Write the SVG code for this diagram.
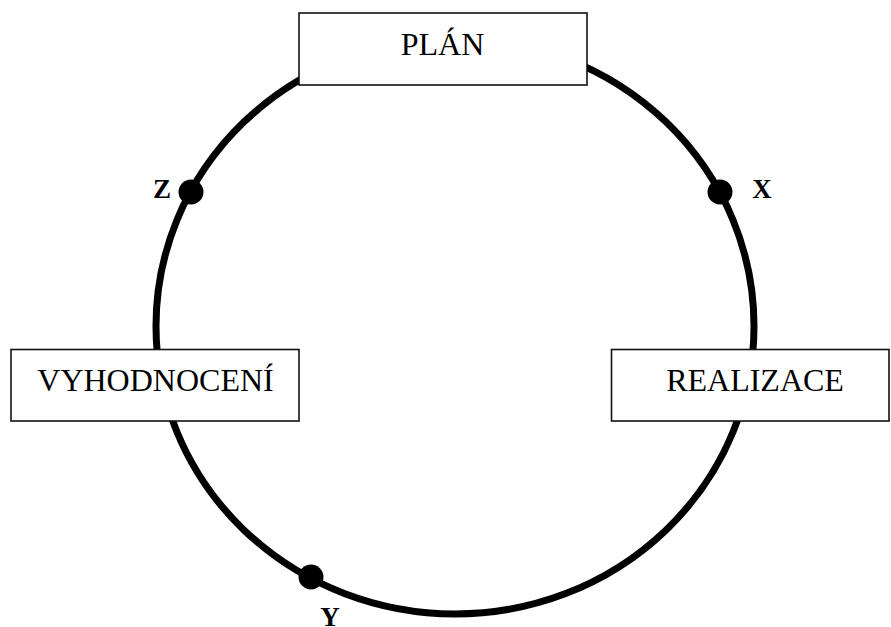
<svg xmlns="http://www.w3.org/2000/svg" width="891" height="627" viewBox="0 0 891 627">
  <style>
    .ring { fill: none; stroke: #000; stroke-width: 7; }
    .box { fill: #fff; stroke: #111; stroke-width: 1.6; }
    .box-label { font-family: "Liberation Serif", "Times New Roman", serif; font-size: 32px; fill: #000; text-anchor: middle; }
    .point { fill: #000; }
    .point-label { font-family: "Liberation Serif", "Times New Roman", serif; font-size: 27px; font-weight: bold; fill: #000; text-anchor: middle; }
  </style>
  <rect width="891" height="627" fill="#fff"/>

  <!-- cycle ring -->
  <g id="connectors">
    <ellipse class="ring" cx="455" cy="326" rx="299" ry="288"/>
  </g>

  <!-- points on the ring -->
  <g id="point-z">
    <circle class="point" cx="191" cy="192" r="12.5"/>
    <text class="point-label" x="162" y="198">Z</text>
  </g>
  <g id="point-x">
    <circle class="point" cx="720" cy="192" r="12.5"/>
    <text class="point-label" x="762" y="198">X</text>
  </g>
  <g id="point-y">
    <circle class="point" cx="311" cy="577" r="12.5"/>
    <text class="point-label" x="330" y="626">Y</text>
  </g>

  <!-- stage boxes -->
  <g id="plan">
    <rect class="box" x="299" y="13" width="288" height="72"/>
    <text class="box-label" x="442.5" y="55">PLÁN</text>
  </g>
  <g id="vyhodnoceni">
    <rect class="box" x="11" y="349.5" width="288" height="71.5"/>
    <text class="box-label" x="155.5" y="391">VYHODNOCENÍ</text>
  </g>
  <g id="realizace">
    <rect class="box" x="611.5" y="349.5" width="277.5" height="71.5"/>
    <text class="box-label" x="755" y="391">REALIZACE</text>
  </g>
</svg>
